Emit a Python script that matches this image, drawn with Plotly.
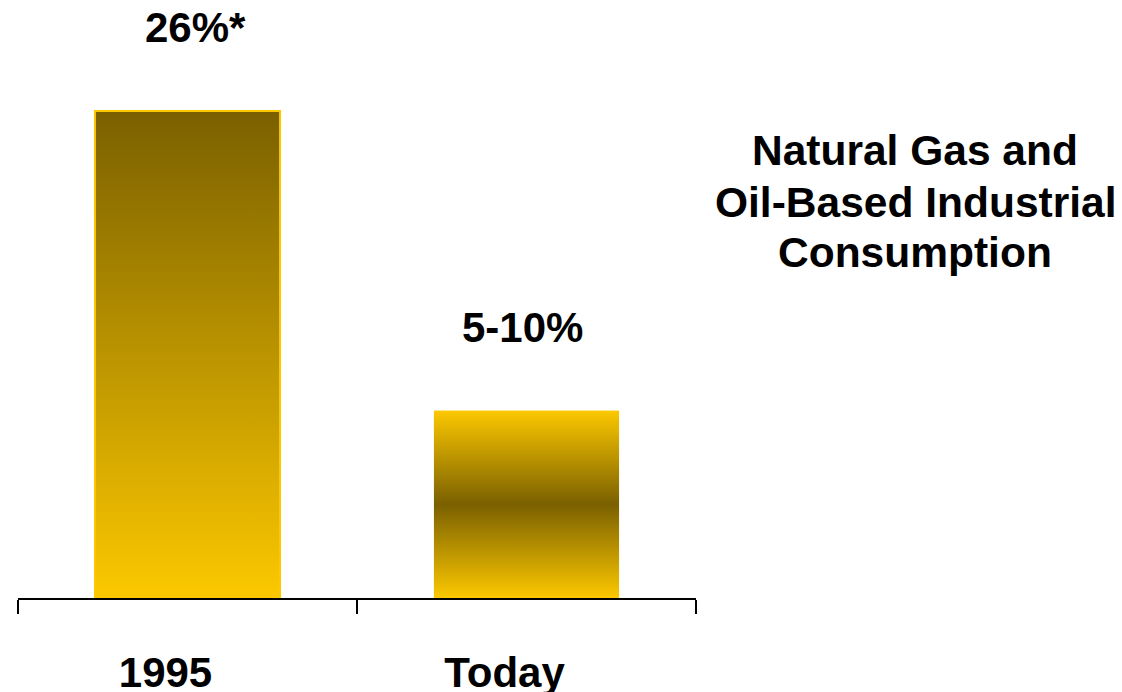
import plotly.graph_objects as go

categories = ["1995", "Today"]
values = [26, 10]
value_labels = ["26%*", "5-10%"]
title_lines = ["Natural Gas and", "Oil-Based Industrial", "Consumption"]

GOLD = "#fcc800"
DARK = "#7a6000"
FONT = "Liberation Sans, Arial, sans-serif"

positions = list(range(len(categories)))
bar_width = 0.546
gradients = [
    [[0, GOLD], [1, DARK]],
    [[0, GOLD], [0.5, DARK], [1, GOLD]],
]
outlines = [GOLD, "rgba(0,0,0,0)"]

fig = go.Figure()
fig.add_trace(go.Bar(
    x=positions, y=values, width=bar_width,
    marker=dict(color=GOLD, line=dict(width=0)),
    showlegend=False, hoverinfo="skip",
))
half = bar_width / 2
for p, v, g, oc in zip(positions, values, gradients, outlines):
    fig.add_trace(go.Scatter(
        x=[p - half, p + half, p + half, p - half, p - half],
        y=[0, 0, v, v, 0],
        mode="lines", fill="toself",
        line=dict(color=oc, width=2),
        fillgradient=dict(type="vertical", colorscale=g),
        showlegend=False, hoverinfo="skip",
    ))

for p, v, lab in zip(positions, values, value_labels):
    fig.add_annotation(
        x=p, y=v, xref="x", yref="y", text=lab, showarrow=False,
        yanchor="middle", yshift=83, xshift=8 if lab.endswith("*") else -4,
        font=dict(family=FONT, size=42, color="black", weight="bold"),
    )

title_y = [150, 202, 252]
for line, py in zip(title_lines, title_y):
    fig.add_annotation(
        x=(915 - 18) / 678, y=(598 - py) / 562, xref="paper", yref="paper",
        text=line, showarrow=False, xanchor="center", yanchor="middle",
        font=dict(family=FONT, size=42.5, color="black", weight="bold"),
    )

fig.update_layout(
    width=1122, height=692,
    margin=dict(l=18, r=426, t=36, b=94, autoexpand=False),
    paper_bgcolor="white", plot_bgcolor="white",
    showlegend=False,
    xaxis=dict(
        range=[-0.5, 1.5], tickmode="array", tickvals=positions, ticktext=categories,
        ticks="", showgrid=False, zeroline=False, automargin=False,
        showline=True, linecolor="black", linewidth=2,
        ticklabelstandoff=37, ticklabelshift=-22,
        tickfont=dict(family=FONT, size=42, color="black", weight="bold"),
        minor=dict(tickmode="array", tickvals=[-0.5, 0.5, 1.5], ticks="outside",
                   ticklen=14, tickwidth=2, tickcolor="black", showgrid=False),
    ),
    yaxis=dict(range=[0, 30], visible=False, showgrid=False, zeroline=False,
               automargin=False),
)

fig.write_html("out.html")
